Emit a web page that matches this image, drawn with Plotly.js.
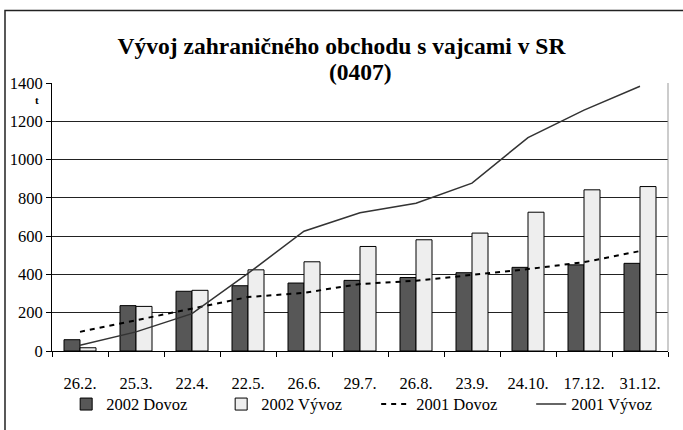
<!DOCTYPE html>
<html>
<head>
<meta charset="utf-8">
<script src="https://cdn.plot.ly/plotly-3.0.1.min.js"></script>
<style>html,body{margin:0;padding:0;background:#fff}#chart{width:683px;height:430px}</style>
</head>
<body>
<div id="chart"></div>
<script>
const categories = ["26.2.","25.3.","22.4.","22.5.","26.6.","29.7.","26.8.","23.9.","24.10.","17.12.","31.12."];
const dovoz2002 = [59, 237, 312, 341, 355, 369, 384, 409, 437, 450, 458];
const vyvoz2002 = [17, 233, 317, 424, 466, 546, 581, 616, 725, 842, 859];
const dovoz2001 = [100, 160, 222, 282, 304, 350, 367, 398, 428, 464, 522];
const vyvoz2001 = [30, 100, 195, 405, 626, 722, 772, 877, 1115, 1258, 1383];
const seriesNames = ["2002 Dovoz", "2002 Vývoz", "2001 Dovoz", "2001 Vývoz"];
const titleLine1 = "Vývoj zahraničného obchodu s vajcami v SR";
const titleLine2 = "(0407)";
const unitLabel = "t";
const yTicks = [0,200,400,600,800,1000,1200,1400];

const font = "Liberation Serif, Times New Roman, serif";

const traces = [
  {type:"bar", name:seriesNames[0], x:categories, y:dovoz2002,
   marker:{color:"#575757", line:{color:"#000", width:1}}},
  {type:"bar", name:seriesNames[1], x:categories, y:vyvoz2002,
   marker:{color:"#eeeeee", line:{color:"#000", width:1}}},
  {type:"scatter", mode:"lines", name:seriesNames[2], x:categories, y:dovoz2001,
   line:{color:"#000", width:2, dash:"5px,5px"}},
  {type:"scatter", mode:"lines", name:seriesNames[3], x:categories, y:vyvoz2001,
   line:{color:"#333", width:1.5}}
];

const layout = {
  width:683, height:430,
  margin:{l:52, r:15, t:82.6, b:79.3, autoexpand:false},
  paper_bgcolor:"#fff", plot_bgcolor:"#fff",
  font:{family:font, size:16.5, color:"#000"},
  title:{text:titleLine1, font:{family:font, size:23.5, color:"#000", weight:"bold"},
         x:0.5, xanchor:"center", y:1-46/430, yanchor:"middle", yref:"container"},
  barmode:"group", bargap:0.4286, bargroupgap:0,
  showlegend:true,
  legend:{orientation:"h", x:0.023, xanchor:"left", y:-0.199, yanchor:"middle",
          font:{family:font, size:16.5}, entrywidth:110, traceorder:"normal",
          borderwidth:0, bgcolor:"rgba(0,0,0,0)"},
  xaxis:{type:"category", range:[-0.5,10.5], showline:true, linecolor:"#000", linewidth:1,
         ticks:"outside", tickson:"boundaries", ticklen:5, tickcolor:"#000",
         showgrid:false, ticklabelstandoff:17, tickfont:{family:font, size:16.5}, fixedrange:true},
  yaxis:{range:[0,1400], tickvals:yTicks, showline:true, linecolor:"#000", linewidth:1,
         ticks:"outside", ticklen:5, tickcolor:"#000", showgrid:true, gridcolor:"#222", gridwidth:1,
         zeroline:false, tickfont:{family:font, size:16.5}, fixedrange:true},
  shapes:[
    {type:"line", xref:"paper", yref:"paper", x0:1, x1:1, y0:0, y1:1, line:{color:"#999", width:1}},
    {type:"rect", xref:"paper", yref:"paper", x0:-0.0763, x1:1.05, y0:-0.4, y1:1.2708,
     line:{color:"#222", width:1.5}, fillcolor:"rgba(0,0,0,0)", layer:"above"}
  ],
  annotations:[
    {text:titleLine2, xref:"paper", yref:"paper", x:0.5, y:(350.7-72)/268.1, showarrow:false,
     font:{family:font, size:23.5, color:"#000", weight:"bold"}, xanchor:"center", yanchor:"middle"},
    {text:unitLabel, xref:"paper", yref:"paper", x:-0.024, y:0.935, showarrow:false,
     font:{family:font, size:11, color:"#000", weight:"bold"}, xanchor:"center", yanchor:"middle"}
  ]
};

Plotly.newPlot("chart", traces, layout, {displayModeBar:false, staticPlot:true});
</script>
</body>
</html>
